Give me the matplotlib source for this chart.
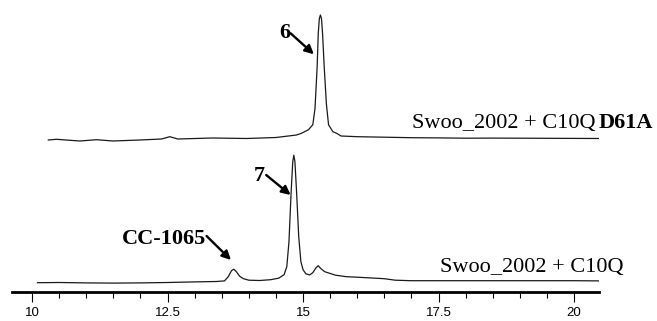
import matplotlib.pyplot as plt
from matplotlib.ticker import MultipleLocator

# retention time (min) / signal (arbitrary units)
rt_c10q = [10.10, 10.5, 11.0, 11.5, 12.0, 12.5, 13.0, 13.4, 13.55, 13.62, 13.68, 13.72,
           13.77, 13.83, 13.9, 14.0, 14.2, 14.4, 14.55, 14.65, 14.70, 14.74, 14.78,
           14.81, 14.83, 14.85, 14.88, 14.92, 14.96, 15.0, 15.05, 15.12, 15.18, 15.24,
           15.28, 15.33, 15.4, 15.6, 15.8, 16.0, 16.5, 16.7, 17.0, 18.0, 19.0, 20.0, 20.48]
sig_c10q = [9.0, 9.2, 8.8, 8.6, 8.8, 9.2, 9.8, 10.2, 10.8, 15.0, 21.0, 22.5,
            20.0, 15.5, 13.0, 11.5, 11.2, 12.0, 13.5, 17.0, 25.0, 50.0, 100.0,
            130.0, 136.5, 130.0, 100.0, 55.0, 30.0, 22.0, 18.0, 16.7, 19.0, 24.0,
            26.0, 23.0, 20.0, 16.5, 15.0, 14.5, 13.0, 11.5, 11.0, 11.0, 11.0, 11.0, 10.8]

rt_d61a = [10.30, 10.45, 10.88, 11.19, 11.49, 11.99, 12.39, 12.54, 12.69, 13.33, 13.96,
           14.5, 14.88, 14.97, 15.1, 15.18, 15.22, 15.26, 15.28, 15.30, 15.32, 15.34,
           15.36, 15.39, 15.43, 15.47, 15.55, 15.62, 15.7, 16.0, 16.5, 17.0, 17.5, 18.0,
           18.5, 19.0, 19.5, 20.0, 20.49]
sig_d61a = [8.7, 9.4, 7.7, 9.0, 7.7, 8.7, 9.7, 12.0, 9.7, 10.7, 10.2,
            11.2, 13.7, 15.4, 19.0, 24.0, 40.0, 82.0, 115.0, 130.0, 133.7, 130.0,
            115.0, 82.0, 45.0, 24.0, 17.0, 15.4, 12.7, 12.0, 11.5, 11.0, 10.8, 10.5,
            10.6, 10.5, 10.4, 10.3, 10.2]

offset_d61a = 143.0  # vertical stacking of the upper trace
x_ticks = [10, 12.5, 15, 17.5, 20]
x_tick_labels = ["10", "12.5", "15", "17.5", "20"]

W, H = 657, 321
fig = plt.figure(figsize=(W / 100, H / 100), dpi=100)
ax = fig.add_axes([12 / W, (H - 291.7) / H, 587 / W, 291.7 / H])
ax.patch.set_alpha(0)

ax.plot(rt_c10q, sig_c10q, color="#1a1a1a", lw=0.9)
ax.plot(rt_d61a, [s + offset_d61a for s in sig_d61a], color="#1a1a1a", lw=0.9)

ax.set_xlim(9.63, 20.46)
ax.set_ylim(0, 291.7)
for side in ["top", "left", "right"]:
    ax.spines[side].set_visible(False)
ax.spines["bottom"].set_linewidth(2.0)
ax.set_yticks([])
ax.set_xticks(x_ticks)
ax.set_xticklabels(x_tick_labels, fontfamily="Liberation Sans", fontsize=9.5)
ax.xaxis.set_minor_locator(MultipleLocator(0.5))
ax.tick_params(axis="x", which="major", direction="out", length=7.2, width=0.8, pad=3.5)
ax.tick_params(axis="x", which="minor", direction="out", length=4.0, width=0.8)

serif = "Liberation Serif"
arrow = dict(arrowstyle="-|>", lw=1.7, color="black", mutation_scale=13, shrinkA=0, shrinkB=0)

ax.annotate("", xy=(15.20, 237.4), xytext=(14.77, 258.4), arrowprops=arrow)
ax.text(14.67, 253.4, "6", ha="center", va="baseline", fontfamily=serif,
        fontweight="bold", fontsize=16)
ax.annotate("", xy=(14.77, 96.7), xytext=(14.32, 116.7), arrowprops=arrow)
ax.text(14.19, 111.0, "7", ha="center", va="baseline", fontfamily=serif,
        fontweight="bold", fontsize=16)
ax.annotate("", xy=(13.67, 31.7), xytext=(13.22, 55.7), arrowprops=arrow)
ax.text(13.22, 47.7, "CC-1065", ha="right", va="baseline", fontfamily=serif,
        fontweight="bold", fontsize=16)

fig.text(595 / W, 1 - 127.7 / H, "Swoo_2002 + C10Q", ha="right", va="baseline",
         fontfamily=serif, fontsize=16)
fig.text(599 / W, 1 - 127.7 / H, "D61A", ha="left", va="baseline",
         fontfamily=serif, fontweight="bold", fontsize=16)
fig.text(623.3 / W, 1 - 271.7 / H, "Swoo_2002 + C10Q", ha="right", va="baseline",
         fontfamily=serif, fontsize=16)

fig.savefig("out.png", dpi=100)
